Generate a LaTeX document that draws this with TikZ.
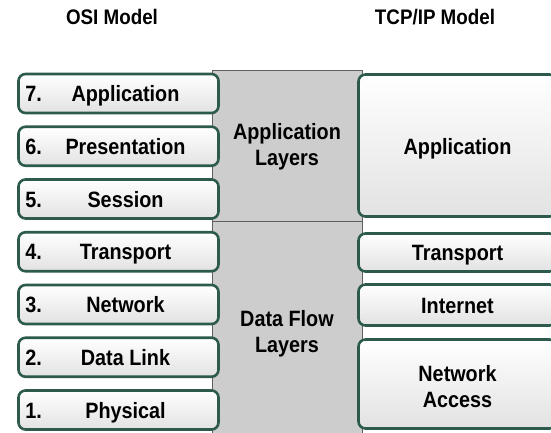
\documentclass[tikz,border=0pt]{standalone}
\usepackage{fontspec}
\setmainfont{Liberation Sans}
\usepackage{graphicx}
\usepackage{xcolor}
\definecolor{layergreen}{RGB}{44, 90, 76}
\definecolor{bandgray}{RGB}{205, 205, 205}
\definecolor{bandline}{RGB}{95, 95, 95}
\definecolor{boxshade}{RGB}{226, 226, 226}
\usetikzlibrary{positioning}
\newcommand{\tallt}[1]{\scalebox{1}[1.12]{#1}}
\newcommand{\twolines}[2]{\tallt{\begin{tabular}{@{}c@{}}#1\\#2\end{tabular}}}

\begin{document}
\begin{tikzpicture}[
        x=1pt, y=-1pt,
        every node/.style={font=\fontsize{19.8}{23}\selectfont\bfseries, inner sep=0pt},
        layerbox/.style={rectangle, rounded corners=7pt, line width=2.6pt, draw=layergreen, top color=white, bottom color=boxshade},
        osilayer/.style={layerbox, minimum width=200pt, minimum height=39pt},
        tcplayer/.style={layerbox, minimum width=198pt},
        band/.style={fill=bandgray, draw=bandline, line width=1pt},
        title/.style={font=\fontsize{18.8}{22}\selectfont\bfseries, anchor=base},
    ]

        % Page frame
        \useasboundingbox (0,0) rectangle (551,432);
        \clip (0,0) rectangle (551,432);

        % Headings
        \node[title] (osititle) at (112,24) {\tallt{OSI Model}};
        \node[title] (tcptitle) at (435,24) {\tallt{TCP/IP Model}};

        % Grey bands
        \draw[band] (212,70) rectangle (362,221) node[midway] (appband) {};
        \draw[band] (212,221) rectangle (362,445) node[midway] (flowband) {};
        \node (applayers) at (287,147.5) {\twolines{Application}{Layers}};
        \node (flowlayers) at (287,334) {\twolines{Data Flow}{Layers}};

        % OSI layers
        \foreach \n/\name [count=\k from 0] in {7/Application, 6/Presentation, 5/Session, 4/Transport, 3/Network, 2/Data Link, 1/Physical}{
            \node[osilayer] at (118.5,{93.5+52.75*\k}) (osi\n) {};
            \node[anchor=base west] at ([xshift=8pt,yshift=-8pt]osi\n.west) {\tallt{\n.}};
            \node[anchor=base] at ([xshift=7pt,yshift=-8pt]osi\n.center) {\tallt{\name}};
        }

        % TCP/IP layers
        \node[tcplayer, minimum height=142pt] at (457.5,145.5) (tcpapp) {};
        \node[tcplayer, minimum height=38pt] at (457.5,252.5) (tcptransport) {};
        \node[tcplayer, minimum height=41pt] at (457.5,305) (tcpinternet) {};
        \node[tcplayer, minimum height=89pt] at (457.5,384) (tcpaccess) {};
        \node[anchor=base] at ([yshift=-9pt]tcpapp.center) {\tallt{Application}};
        \node[anchor=base] at ([yshift=-8pt]tcptransport.center) {\tallt{Transport}};
        \node[anchor=base] at ([yshift=-8pt]tcpinternet.center) {\tallt{Internet}};
        \node at ([yshift=-5pt]tcpaccess.center) {\twolines{Network}{Access}};

    \end{tikzpicture}
\end{document}
